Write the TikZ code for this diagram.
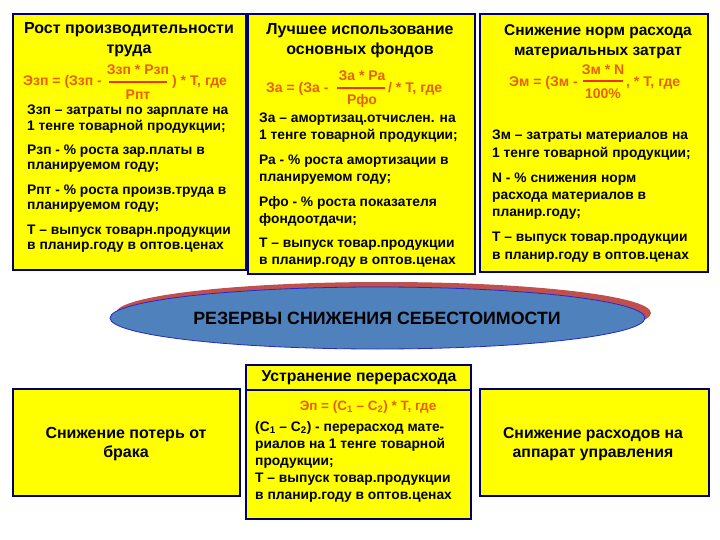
\documentclass[tikz,border=0pt]{standalone}
\usepackage{fontspec}
\setmainfont{Liberation Sans}
\usetikzlibrary{shapes.geometric}
\definecolor{boxyellow}{RGB}{255,255,0}
\definecolor{boxnavy}{RGB}{0,0,110}
\definecolor{formcol}{RGB}{235,95,0}
\definecolor{fraccol}{RGB}{240,50,0}
\definecolor{ellblue}{RGB}{79,129,189}
\definecolor{ellred}{RGB}{192,80,77}
\definecolor{ellline}{RGB}{40,40,200}
\begin{document}
\begin{tikzpicture}[x=1pt,y=-1pt,
  box/.style={draw=boxnavy, line width=2pt, fill=boxyellow, anchor=north west, inner sep=0pt},
  ttl/.style={font=\fontsize{16}{20}\selectfont\bfseries, align=center, inner sep=0pt, anchor=north},
  bodyA/.style={font=\fontsize{13.8}{14.5}\selectfont\bfseries, align=left, anchor=north west, inner sep=0pt},
  bodyB/.style={font=\fontsize{13.8}{17}\selectfont\bfseries, align=left, anchor=north west, inner sep=0pt},
  bodyC/.style={font=\fontsize{13.8}{17.5}\selectfont\bfseries, align=left, anchor=north west, inner sep=0pt},
  form/.style={font=\fontsize{14}{16}\selectfont\bfseries, text=formcol, inner sep=0pt},
  fracline/.style={draw=fraccol, line width=1.3pt},
  bigtxt/.style={font=\fontsize{15.8}{19}\selectfont\bfseries, align=center, inner sep=0pt, anchor=north}
]
\fill[white] (0,0) rectangle (720,540);
\useasboundingbox (0,0) rectangle (720,540);

% ---------- top boxes ----------
\node[box, minimum width=233pt, minimum height=256pt] (b1) at (12,13) {};
\node[box, minimum width=227pt, minimum height=260pt] (b2) at (247,13) {};
\node[box, minimum width=228pt, minimum height=258pt] (b3) at (479,13) {};

% box 1
\node[ttl] (b1t) at (129,19.3) {\strut Рост производительности\\труда};
\node[form, anchor=base west] (b1fa) at (23,85.6) {Эзп = (Ззп -};
\node[form, anchor=base] (b1fn) at (138,74.6) {Ззп * Рзп};
\node[form, anchor=base] (b1fd) at (138,99.6) {Рпт};
\node[form, anchor=base west] (b1fb) at (172,85.6) {) * Т, где};
\coordinate (b1l1) at (109,82);
\coordinate (b1l2) at (167,82);
\draw[fracline] (b1l1) -- (b1l2);
\node[bodyA] (b1p1) at (27,104.3) {\strut Ззп – затраты по зарплате на\\1 тенге товарной продукции;};
\node[bodyA] (b1p2) at (27,144.3) {\strut Рзп - \% роста зар.платы в\\планируемом году;};
\node[bodyA] (b1p3) at (27,184.3) {\strut Рпт - \% роста произв.труда в\\планируемом году;};
\node[bodyA] (b1p4) at (27,224.3) {\strut Т – выпуск товарн.продукции\\в планир.году в оптов.ценах};

% box 2
\node[ttl] (b2t) at (360,20.3) {\strut Лучшее использование\\основных фондов};
\node[form, anchor=base west] (b2fa) at (266,92.6) {За = (За -};
\node[form, anchor=base] (b2fn) at (362,80.6) {За * Ра};
\node[form, anchor=base] (b2fd) at (362,104.6) {Рфо};
\node[form, anchor=base west] (b2fb) at (388,92.6) {/ * Т, где};
\coordinate (b2l1) at (337,88);
\coordinate (b2l2) at (385,88);
\draw[fracline] (b2l1) -- (b2l2);
\node[bodyB] (b2p1) at (259,110.6) {\strut За – амортизац.отчислен. на\\1 тенге товарной продукции;};
\node[bodyB] (b2p2) at (259,152.6) {\strut Ра - \% роста амортизации в\\планируемом году;};
\node[bodyB] (b2p3) at (259,194.6) {\strut Рфо - \% роста показателя\\фондоотдачи;};
\node[bodyB] (b2p4) at (259,235.6) {\strut Т – выпуск товар.продукции\\в планир.году в оптов.ценах};

% box 3
\node[ttl, font=\fontsize{15.5}{20}\selectfont\bfseries] (b3t) at (598,21.3) {\strut Снижение норм расхода\\материальных затрат};
\node[form, anchor=base west] (b3fa) at (509,86.6) {Эм = (Зм -};
\node[form, anchor=base] (b3fn) at (603,74.6) {Зм * N};
\node[form, anchor=base] (b3fd) at (603,98.6) {100\%};
\node[form, anchor=base west] (b3fb) at (626,86.6) {, * Т, где};
\coordinate (b3l1) at (583,81);
\coordinate (b3l2) at (623,81);
\draw[fracline] (b3l1) -- (b3l2);
\node[bodyC] (b3p1) at (492,127.3) {\strut Зм – затраты материалов на\\1 тенге товарной продукции;};
\node[bodyB] (b3p2) at (492,170.6) {\strut N - \% снижения норм\\расхода материалов в\\планир.году;};
\node[bodyC] (b3p3) at (492,229.3) {\strut Т – выпуск товар.продукции\\в планир.году в оптов.ценах};

% ---------- ellipse ----------
\node[ellipse, fill=ellred, minimum width=535pt, minimum height=62pt, inner sep=0pt] (ressh) at (383.5,313) {};
\node[ellipse, fill=ellblue, draw=ellline, line width=0.8pt, minimum width=535pt, minimum height=62pt, inner sep=0pt] (res) at (377.5,318) {};
\node[font=\fontsize{17.8}{20}\selectfont\bfseries, inner sep=0pt] (restxt) at (377,318) {РЕЗЕРВЫ СНИЖЕНИЯ СЕБЕСТОИМОСТИ};

% ---------- bottom boxes ----------
\node[box, minimum width=227pt, minimum height=107pt] (bl) at (12,388) {};
\node[box, minimum width=225pt, minimum height=129pt] (bm) at (245,389) {};
\node[box, minimum width=225pt, minimum height=25pt] (bmt) at (245,364) {};
\node[box, minimum width=229pt, minimum height=107pt] (br) at (479,388) {};

\node[font=\fontsize{15.8}{19}\selectfont\bfseries, anchor=base, inner sep=0pt] (bmtt) at (359,381.1) {Устранение перерасхода};
\node[form, font=\fontsize{13.5}{15}\selectfont\bfseries, anchor=base] (bmf) at (368,410.3) {Эп = (С\textsubscript{1} – С\textsubscript{2}) * Т, где};
\node[bodyB] (bmp) at (255,419.6) {\strut (С\textsubscript{1} – С\textsubscript{2}) - перерасход мате-\\риалов на 1 тенге товарной\\продукции;\\Т – выпуск товар.продукции\\в планир.году в оптов.ценах};

\node[bigtxt, font=\fontsize{16}{19}\selectfont\bfseries] (blt) at (126,424.8) {\strut Снижение потерь от\\брака};
\node[bigtxt] (brt) at (593,424.8) {\strut Снижение расходов на\\аппарат управления};
\end{tikzpicture}
\end{document}
